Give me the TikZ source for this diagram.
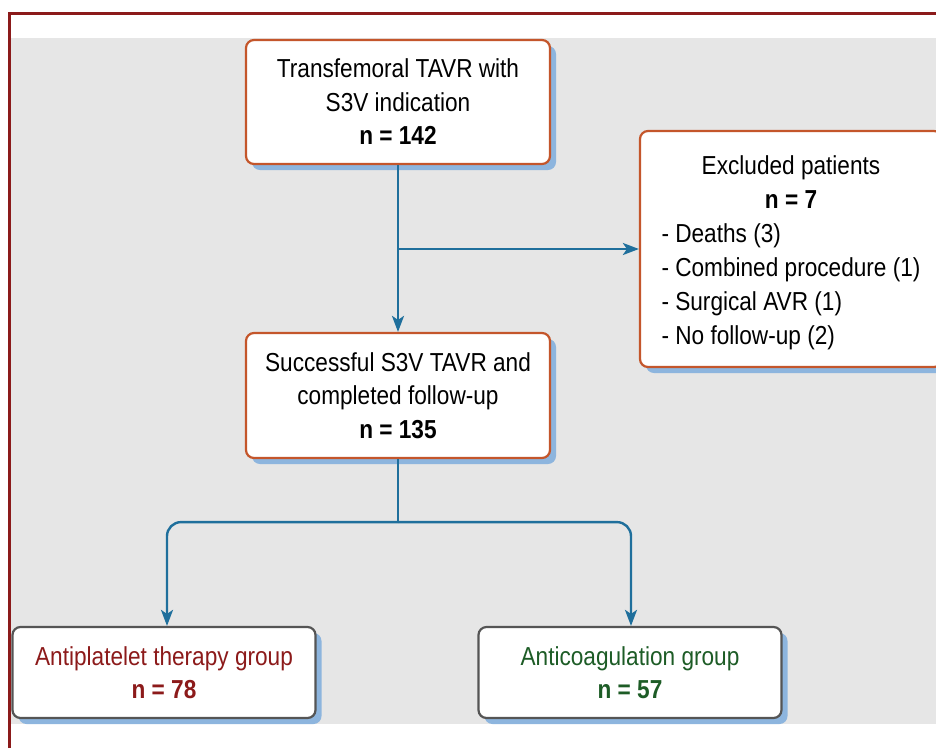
\documentclass[tikz,border=0pt]{standalone}
\usepackage{fontspec}
\setmainfont{Liberation Sans}[FakeStretch=0.87]
\usetikzlibrary{arrows.meta,shadows,calc}
\definecolor{framecol}{HTML}{8B1A1A}
\definecolor{bggray}{HTML}{E6E6E6}
\definecolor{orangeb}{HTML}{C4562B}
\definecolor{grayb}{HTML}{555555}
\definecolor{arrblue}{HTML}{1F6F9C}
\definecolor{shblue}{HTML}{8DB5DE}
\definecolor{redtxt}{HTML}{8C1A1A}
\definecolor{greentxt}{HTML}{1D5C26}
\tikzset{
  boxbase/.style={rectangle, rounded corners=8pt, fill=white, line width=2.2pt,
    align=center, inner sep=0pt, font=\fontsize{26}{33.5}\selectfont,
    drop shadow={shadow xshift=6pt, shadow yshift=-6pt, fill=shblue, opacity=1}},
  obox/.style={boxbase, draw=orangeb},
  gbox/.style={boxbase, draw=grayb},
  arr/.style={draw=arrblue, line width=2.4pt, -{Stealth[length=16pt,width=12pt,inset=4pt]}},
  lin/.style={draw=arrblue, line width=2.4pt}
}
\begin{document}
\begin{tikzpicture}[x=1pt,y=-1pt]
\useasboundingbox (0,0) rectangle (936,748);
\begin{scope}
\clip (0,0) rectangle (936,748);
\fill[bggray] (10.5,38) rectangle (936,724);
\draw[framecol, line width=2.5pt] (9.5,748) -- (9.5,13.5) -- (940,13.5);

\node[obox, minimum width=304pt, minimum height=124pt] (top) at (398,102)
  {Transfemoral TAVR with\\S3V indication\\\textbf{n = 142}};
\node[obox, minimum width=304pt, minimum height=125pt] (mid) at (398,395.5)
  {Successful S3V TAVR and\\completed follow-up\\\textbf{n = 135}};
\node[obox, minimum width=302pt, minimum height=236pt, font=\fontsize{26}{34}\selectfont] (exc) at (791,249)
  {\rule{0pt}{31pt}Excluded patients\\\textbf{n = 7}\\
   \begin{tabular}[t]{@{}l@{}}- Deaths (3)\\- Combined procedure (1)\\- Surgical AVR (1)\\- No follow-up (2)\end{tabular}};
\node[gbox, minimum width=303pt, minimum height=91pt, text=redtxt] (bl) at (164,672.5)
  {Antiplatelet therapy group\\\textbf{n = 78}};
\node[gbox, minimum width=303pt, minimum height=91pt, text=greentxt] (br) at (630,672.5)
  {Anticoagulation group\\\textbf{n = 57}};

\draw[arr] (top.south) -- (mid.north);
\coordinate (j1) at (top.south |- exc.west);
\draw[arr] (j1) -- (exc.west);
\draw[lin] (mid.south) -- ++(0,63) coordinate (j2);
\draw[arr, rounded corners=14pt] (j2) -| ($(bl.north)+(3,0)$);
\draw[arr, rounded corners=14pt] (j2) -| ($(br.north)+(1,0)$);
\end{scope}
\end{tikzpicture}
\end{document}
